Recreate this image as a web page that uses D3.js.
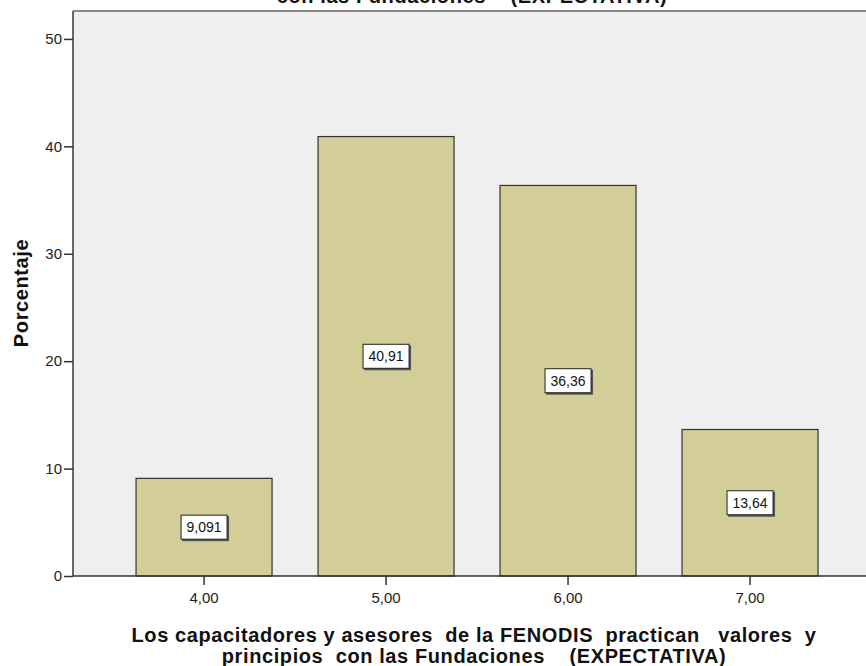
<!DOCTYPE html>
<html>
<head>
<meta charset="utf-8">
<script src="https://cdn.jsdelivr.net/npm/d3@7"></script>
<style>
  html, body { margin: 0; padding: 0; background: #ffffff; }
  svg { display: block; }
</style>
</head>
<body>
<svg id="chart" width="866" height="666"></svg>
<script>
// Category values on the x axis and their percentages
const categories = ["4,00", "5,00", "6,00", "7,00"];
const percentages = [9.091, 40.91, 36.36, 13.64];
const valueLabels = ["9,091", "40,91", "36,36", "13,64"];
const yTicks = [0, 10, 20, 30, 40, 50];

const titleText = "con las Fundaciones    (EXPECTATIVA)";
const xTitleLines = [
  "Los capacitadores y asesores  de la FENODIS  practican   valores  y",
  "principios  con las Fundaciones    (EXPECTATIVA)"
];
const yTitle = "Porcentaje";

const svg = d3.select("#chart");
const font = "Arial, 'Liberation Sans', sans-serif";

const plot = { left: 73, right: 866, top: 11, bottom: 576 };

const y = d3.scaleLinear()
  .domain([0, 52.6])
  .range([plot.bottom, plot.top]);

const x = d3.scaleBand()
  .domain(categories)
  .range([plot.left, plot.right])
  .paddingInner(0.2527)
  .paddingOuter(0.305)
  .align(0.568);

// Plot background
svg.append("rect")
  .attr("x", plot.left)
  .attr("y", plot.top)
  .attr("width", plot.right - plot.left)
  .attr("height", plot.bottom - plot.top)
  .attr("fill", "#efefef");

// Frame line across the top of the plot
svg.append("line")
  .attr("x1", plot.left).attr("x2", plot.right)
  .attr("y1", plot.top).attr("y2", plot.top)
  .attr("stroke", "#8a8a8a").attr("stroke-width", 2);

// Chart title, running off the top edge so only its base shows
svg.append("text")
  .attr("x", 472)
  .attr("y", 2.5)
  .attr("text-anchor", "middle")
  .attr("font-family", font)
  .attr("font-weight", "bold")
  .attr("font-size", 20)
  .attr("letter-spacing", 0.6)
  .attr("fill", "#111")
  .style("white-space", "pre")
  .text(titleText);

// Bars
svg.append("g").selectAll("rect")
  .data(percentages)
  .join("rect")
  .attr("x", (d, i) => x(categories[i]))
  .attr("y", d => y(d))
  .attr("width", x.bandwidth())
  .attr("height", d => y(0) - y(d))
  .attr("fill", "#d3ce97")
  .attr("stroke", "#333")
  .attr("stroke-width", 1.2);

// Y axis
const yAxis = svg.append("g")
  .attr("transform", `translate(${plot.left},0)`)
  .call(d3.axisLeft(y).tickValues(yTicks).tickSize(9).tickPadding(2).tickFormat(d3.format("d")));
yAxis.select(".domain").attr("stroke", "#333").attr("stroke-width", 1.5)
  .attr("d", `M0,${plot.top}V${plot.bottom}`);
yAxis.selectAll(".tick line").attr("stroke", "#333").attr("stroke-width", 1.5);
yAxis.selectAll(".tick text")
  .attr("font-family", font).attr("font-size", 15).attr("fill", "#222");

// X axis
const xAxis = svg.append("g")
  .attr("transform", `translate(0,${plot.bottom})`)
  .call(d3.axisBottom(x).tickSize(9).tickPadding(7));
xAxis.select(".domain").attr("stroke", "#333").attr("stroke-width", 1.5)
  .attr("d", `M${plot.left},0H${plot.right}`);
xAxis.selectAll(".tick line").attr("stroke", "#333").attr("stroke-width", 1.5);
xAxis.selectAll(".tick text")
  .attr("font-family", font).attr("font-size", 15).attr("fill", "#222");

// Value labels inside the bars
const labels = svg.append("g").selectAll("g")
  .data(percentages)
  .join("g")
  .attr("transform", (d, i) => `translate(${x(categories[i]) + x.bandwidth() / 2},${y(d / 2)})`);

labels.append("rect")
  .attr("x", -23).attr("y", -12)
  .attr("width", 47).attr("height", 25)
  .attr("fill", "#555")
  .attr("transform", "translate(1,1)");
labels.append("rect")
  .attr("x", -23).attr("y", -12)
  .attr("width", 46).attr("height", 24)
  .attr("fill", "#ffffff")
  .attr("stroke", "#222")
  .attr("stroke-width", 1);
labels.append("text")
  .attr("text-anchor", "middle")
  .attr("dy", "0.36em")
  .attr("font-family", font)
  .attr("font-size", 14)
  .attr("fill", "#111")
  .text((d, i) => valueLabels[i]);

// Axis titles
svg.append("text")
  .attr("transform", "translate(28,293) rotate(-90)")
  .attr("text-anchor", "middle")
  .attr("font-family", font)
  .attr("font-weight", "bold")
  .attr("font-size", 20)
  .attr("letter-spacing", 0.6)
  .attr("fill", "#111")
  .text(yTitle);

const xt = svg.append("text")
  .attr("text-anchor", "middle")
  .attr("font-family", font)
  .attr("font-weight", "bold")
  .attr("font-size", 20)
  .attr("letter-spacing", 0.6)
  .attr("fill", "#111")
  .style("white-space", "pre");
xTitleLines.forEach((line, i) => {
  xt.append("tspan")
    .attr("x", 474)
    .attr("y", 642 + i * 21)
    .text(line);
});
</script>
</body>
</html>
